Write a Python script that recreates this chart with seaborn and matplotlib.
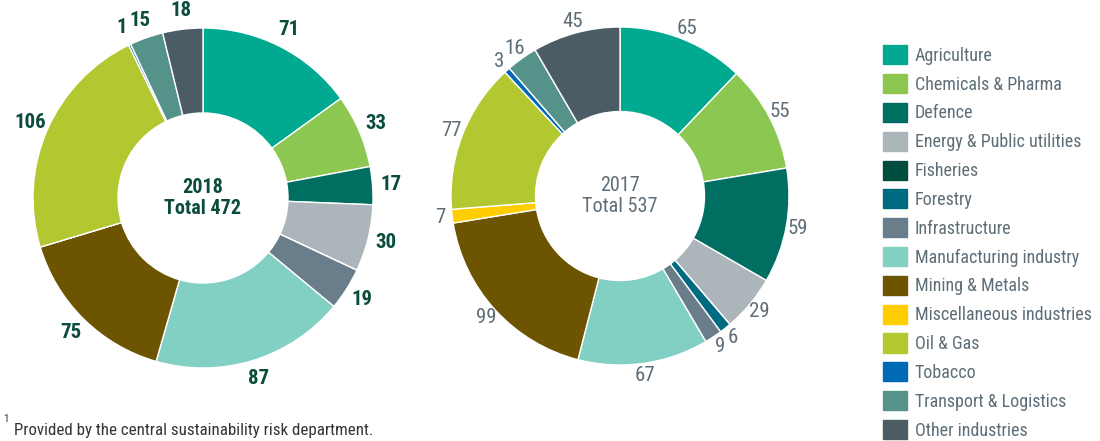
import matplotlib
matplotlib.use("Agg")
import matplotlib.pyplot as plt
import matplotlib.patches as mpatches
import numpy as np
import seaborn as sns

# sectors and values
sectors = ["Agriculture", "Chemicals & Pharma", "Defence", "Energy & Public utilities",
           "Fisheries", "Forestry", "Infrastructure", "Manufacturing industry",
           "Mining & Metals", "Miscellaneous industries", "Oil & Gas", "Tobacco",
           "Transport & Logistics", "Other industries"]
values_2018 = [71, 33, 17, 30, 0, 0, 19, 87, 75, 0, 106, 1, 15, 18]
values_2017 = [65, 55, 59, 29, 0, 6, 9, 67, 99, 7, 77, 3, 16, 45]
colors = ["#00A98F", "#8CC751", "#006F62", "#ABB5BA", "#004D40", "#006A80", "#6A7D8B",
          "#82CFC4", "#6C5400", "#FFCD00", "#B2C730", "#006AB6", "#55928A", "#4B5C64"]

sns.set_theme(style="white")
plt.rcParams["font.family"] = ["Roboto Condensed", "DejaVu Sans"]

dark_green = "#0B4D3D"
grey = "#5E6E78"

fig = plt.figure(figsize=(11, 4.41), dpi=100)
palette = sns.color_palette(colors)


def donut(rect, vals, year, bold, txtcolor, dist):
    ax = fig.add_axes(rect)
    wedges, _ = ax.pie(vals, colors=palette, startangle=90, counterclock=False,
                       radius=1, wedgeprops=dict(width=0.5, edgecolor="white", linewidth=1))
    for w, v in zip(wedges, vals):
        if v == 0:
            continue
        ang = np.deg2rad((w.theta1 + w.theta2) / 2)
        ax.text(dist * np.cos(ang), dist * np.sin(ang), str(v), ha="center", va="center",
                fontsize=15, color=txtcolor, fontweight="bold" if bold else "normal")
    ax.text(0, 0, f"{year}\nTotal {sum(vals)}", ha="center", va="center", fontsize=14.5,
            color=txtcolor, fontweight="bold" if bold else "normal", linespacing=1.1)
    ax.set_xlim(-1, 1)
    ax.set_ylim(-1, 1)
    ax.axis("off")
    return ax


donut([33 / 1100, 73 / 441, 340 / 1100, 340 / 441], values_2018, 2018, True, dark_green, 1.11)
donut([451 / 1100, 76 / 441, 338 / 1100, 338 / 441], values_2017, 2017, False, grey, 1.07)

handles = [mpatches.Patch(color=c, label=s) for c, s in zip(palette, sectors)]
leg = fig.legend(handles=handles, loc="upper left", bbox_to_anchor=(876 / 1100, 1 - 38 / 441),
                 frameon=False, fontsize=13, handlelength=1.3, handleheight=1.25,
                 labelspacing=0.51, handletextpad=0.45, borderaxespad=0)
for t in leg.get_texts():
    t.set_color(grey)

fig.text(3 / 1100, 1 - 424 / 441, "1", fontsize=8, color="#333333", va="bottom")
fig.text(14 / 1100, 1 - 438 / 441, "Provided by the central sustainability risk department.",
         fontsize=12.2, color="#333333", va="bottom")

fig.savefig("out.png", dpi=100)
